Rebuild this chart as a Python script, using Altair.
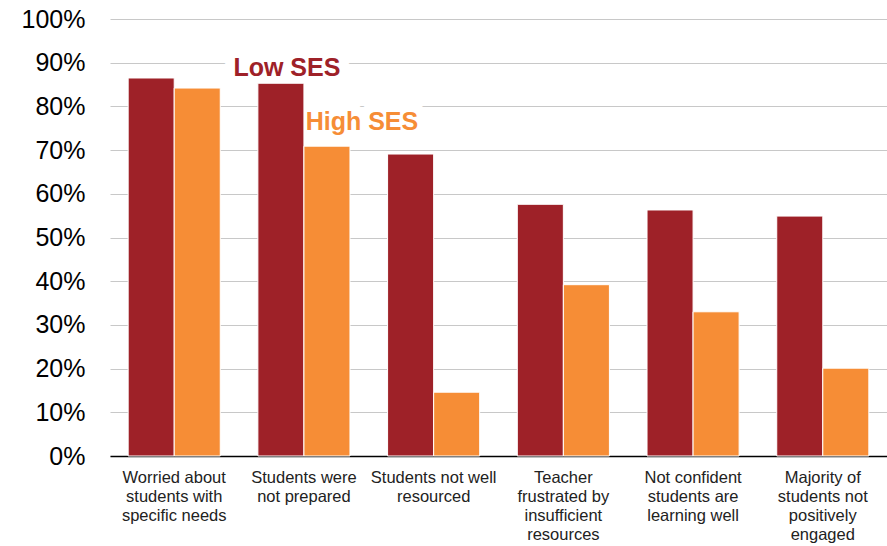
import altair as alt
import pandas as pd

# Survey categories (line breaks mark where the axis label wraps)
categories = [
    "Worried about\nstudents with\nspecific needs",
    "Students were\nnot prepared",
    "Students not well\nresourced",
    "Teacher\nfrustrated by\ninsufficient\nresources",
    "Not confident\nstudents are\nlearning well",
    "Majority of\nstudents not\npositively\nengaged",
]
low_ses = [86.5, 85.3, 69.1, 57.6, 56.3, 54.9]
high_ses = [84.2, 70.9, 14.6, 39.2, 33.0, 20.1]
groups = ["Low SES", "High SES"]
colors = ["#9E2128", "#F68D36"]

rows = []
for c, lo, hi in zip(categories, low_ses, high_ses):
    rows.append({"category": c, "group": "Low SES", "value": lo})
    rows.append({"category": c, "group": "High SES", "value": hi})
df = pd.DataFrame(rows)

x_scale = alt.Scale(domain=categories, paddingInner=0.29, paddingOuter=0.14)
y_scale = alt.Scale(domain=[0, 100], nice=False)

x_axis = alt.Axis(
    title=None,
    labelAngle=0,
    labelExpr="split(datum.value, '\\n')",
    labelFont="Liberation Sans",
    labelFontSize=16.5,
    labelLineHeight=19,
    labelColor="#222222",
    labelPadding=13,
    labelLimit=0,
    ticks=False,
    domainColor="#000000",
    domainWidth=1.5,
    grid=False,
)
y_axis = alt.Axis(
    title=None,
    values=list(range(0, 101, 10)),
    labelExpr="datum.value + '%'",
    labelFont="Liberation Sans",
    labelFontSize=25,
    labelColor="#000000",
    labelPadding=25,
    ticks=False,
    domain=False,
    gridColor="#C8C8C8",
    gridWidth=1.2,
)

bars = alt.Chart(df).mark_bar(stroke="white", strokeWidth=1).encode(
    x=alt.X("category:N", sort=categories, scale=x_scale, axis=x_axis),
    xOffset=alt.XOffset("group:N", sort=groups, scale=alt.Scale(domain=groups)),
    y=alt.Y("value:Q", scale=y_scale, axis=y_axis),
    color=alt.Color(
        "group:N",
        scale=alt.Scale(domain=groups, range=colors),
        legend=None,
    ),
)

# In-plot series labels, anchored to the second category
label_cat = [categories[1], categories[1]]
label_val = [88.8, 76.4]
label_dx = [-17, 58]


def series_label(i, halo):
    d = pd.DataFrame({"category": [label_cat[i]], "value": [label_val[i]], "text": [groups[i]]})
    style = dict(font="Liberation Sans", fontSize=25, fontWeight="bold", dx=label_dx[i])
    if halo:
        # white halo under the bars keeps gridlines from running through the label
        mark = alt.Chart(d).mark_text(color="white", stroke="white", strokeWidth=20,
                                      strokeJoin="round", **style)
    else:
        mark = alt.Chart(d).mark_text(color=colors[i], **style)
    return mark.encode(
        x=alt.X("category:N", sort=categories, scale=x_scale, axis=x_axis),
        y=alt.Y("value:Q", scale=y_scale, axis=y_axis),
        text="text:N",
    )


chart = alt.layer(
    series_label(0, True), series_label(1, True),
    bars,
    series_label(0, False), series_label(1, False),
).properties(
    width=777,
    height=437,
    background="white",
    autosize=alt.AutoSizeParams(type="none"),
    padding={"left": 110, "top": 19, "right": 0, "bottom": 90},
).configure_view(stroke=None, strokeWidth=0)

chart.save("out.html", embed_options={"renderer": "svg", "actions": False})
